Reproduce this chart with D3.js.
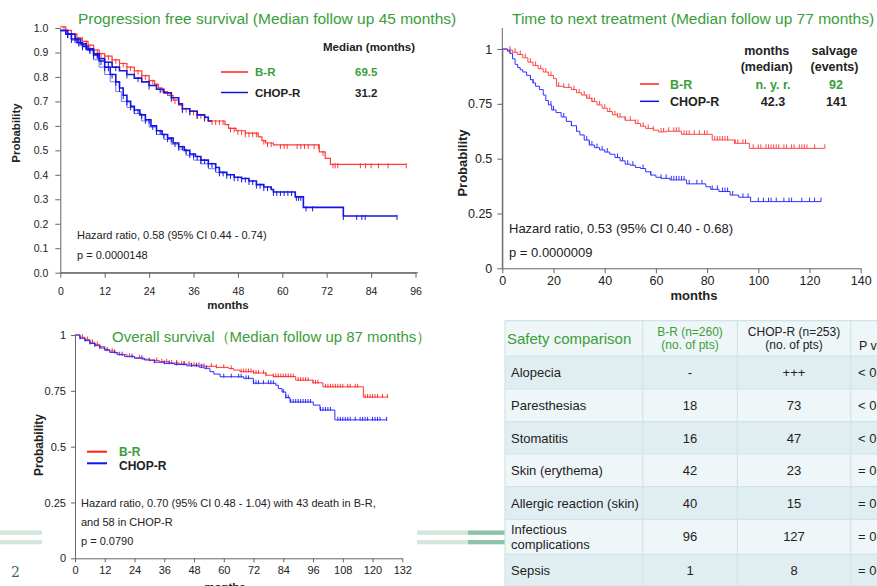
<!DOCTYPE html>
<html>
<head>
<meta charset="utf-8">
<script src="https://cdn.jsdelivr.net/npm/d3@7"></script>
<style>
  body { margin: 0; background: #fff; }
  svg { display: block; font-family: "Liberation Sans", Arial, sans-serif; }
</style>
</head>
<body>
<svg id="chart" width="877" height="586"></svg>
<script>
// ---- data: progression free survival (months, survival) ----
const pfsTicksX = [0, 12, 24, 36, 48, 60, 72, 84, 96];
const pfsTicksY = [0, 0.1, 0.2, 0.3, 0.4, 0.5, 0.6, 0.7, 0.8, 0.9, 1.0];
const pfsBR = [[0,1.005],[1.5,0.99],[3,0.975],[4.5,0.96],[6,0.945],[7.5,0.93],[9,0.91],[10.5,0.895],[12,0.885],[14,0.87],[16,0.855],[18,0.84],[20,0.825],[22,0.805],[24,0.785],[25.5,0.77],[26.5,0.755],[27.5,0.74],[29,0.725],[30.5,0.705],[32,0.685],[33,0.67],[35,0.66],[37,0.645],[39,0.635],[40,0.62],[44.5,0.605],[45.5,0.59],[47.5,0.58],[50,0.57],[53.5,0.555],[54.5,0.54],[55.5,0.53],[57.6,0.522],[70,0.494],[71.6,0.467],[73,0.443]];
const pfsBREnd = 93.5;
const pfsBRCensor = [1,2,3,4,5,6,7,8,9,10,11,12,13,14,15,16,17,18,19,20,21,22,23,24,25,26,31,33,34,35,36,37,38,39,41,42,43,44,46,47,48,49,50,51,52,53,55,56,57,59.5,60.5,61.3,64,65,66,67,68.6,69.8,71,73.7,74.3,75,81.1,82.5,84,86,88.6,93.5];
const pfsCHOP = [[0,0.99],[1.5,0.975],[3,0.955],[4.5,0.94],[6,0.925],[7.5,0.91],[9,0.89],[10.5,0.865],[12,0.84],[13.5,0.81],[15,0.78],[16,0.755],[17,0.725],[18,0.7],[19,0.68],[20,0.665],[21.5,0.645],[23,0.625],[24.5,0.6],[26,0.58],[27.5,0.565],[29,0.55],[30.5,0.53],[32,0.515],[33.5,0.5],[35,0.485],[36.5,0.475],[38,0.46],[40,0.445],[42,0.43],[43,0.41],[45,0.4],[47,0.39],[49,0.385],[51,0.375],[53,0.36],[55,0.35],[57,0.34],[57.6,0.33],[63.5,0.31],[65.7,0.267],[76.5,0.232]];
const pfsCHOPEnd = 91;
const pfsCHOPCensor = [2,3,4,5,6,7,8,9,10,11,12,13,14,15,16,17,18,19,20,21,22,23,24,25,26,27,28,29,30,31,32,33,34,35,36,37,38,39,40,41,42,43,44,45,46,47,48,49,50,51,52,53,54,55,56,57.6,58.5,59.5,60.5,61.5,62.5,63.8,64.4,65,66.4,68.2,76.5,80.1,81.5,82.4,91];
// overlaid curves visible in the source picture
const pfsOverlay = [[0,0.99],[2,0.975],[4,0.955],[5.5,0.935],[7,0.915],[9,0.895],[10.5,0.875],[12,0.86],[14,0.84],[16,0.825],[18,0.81],[20,0.795],[22,0.78],[24,0.765],[26,0.75],[28,0.735],[30,0.715],[32,0.69],[33,0.67],[35,0.66],[37,0.645],[39,0.635],[40,0.62]];
const pfsOverlayEnd = 41;
const pfsOverlayCensor = [2,3,5,6,8,10,13,15,18,21,24,27,30,33,35,37,39];
const pfsShadow = [[3,0.95],[5,0.93],[7,0.91],[9,0.87],[10.5,0.84],[12,0.81],[13.5,0.78],[15,0.74],[16.5,0.7],[18,0.675],[20,0.65],[22,0.62],[24,0.595],[26,0.565],[28,0.545],[30,0.525],[32,0.505],[34,0.48],[36,0.46],[38,0.445],[40,0.425],[42,0.41]];
const pfsShadowEnd = 43;

// ---- data: time to next treatment ----
const ttntTicksX = [0, 20, 40, 60, 80, 100, 120, 140];
const ttntTicksY = [0, 0.25, 0.5, 0.75, 1];
const ttntBR = [[0,1],[2,0.995],[4,0.985],[6,0.975],[8,0.96],[10,0.94],[12,0.925],[14,0.91],[16,0.895],[18,0.88],[20,0.865],[21.2,0.83],[24,0.825],[27,0.815],[29,0.8],[31,0.79],[33,0.775],[35,0.76],[37,0.745],[39,0.73],[41,0.715],[43,0.7],[45,0.69],[48,0.675],[52,0.66],[54,0.648],[56,0.638],[59,0.63],[61,0.622],[64,0.625],[70,0.611],[82,0.585],[90.7,0.57],[96.5,0.547]];
const ttntBREnd = 126;
const ttntBRCensor = [3,5,7,9,11,13,15,17,19,22,24,26,28,30,32,33,34,35,36,38,40,42,44,45,46,48,50,52,53,55,57,59,62,63,65,67,68,69,71,72,73,75,77,79,80,83,84,85,86,87,88,91,92,94,95,98,100,101,103,104,105,106,107,108,110,111,113,114,116,117,118,119,122,126];
const ttntCHOP = [[0,1],[2,0.99],[3,0.98],[4,0.955],[5,0.93],[6,0.915],[7,0.905],[8,0.895],[9.5,0.88],[11,0.86],[12,0.845],[13,0.83],[14.5,0.815],[16,0.79],[17,0.765],[18,0.745],[19.3,0.722],[21,0.71],[23,0.69],[25,0.67],[27,0.65],[29,0.625],[30.3,0.608],[32,0.585],[34,0.562],[36,0.55],[38,0.54],[40,0.53],[42,0.52],[44,0.505],[46,0.49],[48,0.475],[50,0.47],[52,0.46],[54,0.455],[56,0.44],[58,0.425],[60,0.415],[62,0.41],[65.5,0.403],[72,0.385],[79.5,0.372],[81.4,0.36],[84.6,0.35],[89,0.334],[92.3,0.324],[97,0.304]];
const ttntCHOPEnd = 124.5;
const ttntCHOPCensor = [3,11,12,19,20,24,27,29,33,34,35,37,39,41,45,47,49,51,55,58,62,64,66,67,68,69,70,71,73,76,78,82,84,86,87,88,90,94,96,100,102,104,105,107,110,112,113,117,120,122,124.5];

// ---- data: overall survival ----
const osTicksX = [0, 12, 24, 36, 48, 60, 72, 84, 96, 108, 120, 132];
const osTicksY = [0, 0.25, 0.5, 0.75, 1];
const osBR = [[0,1],[2,0.99],[4,0.98],[6,0.968],[8,0.958],[10,0.948],[12,0.935],[14,0.928],[16,0.92],[18,0.912],[21,0.905],[24,0.898],[27,0.892],[30,0.886],[34,0.88],[38,0.875],[42,0.87],[47,0.865],[52,0.86],[57,0.855],[62,0.85],[64,0.843],[66.5,0.836],[72,0.83],[77,0.82],[80,0.814],[89,0.798],[96,0.786],[100,0.768],[116.3,0.722]];
const osBREnd = 126.3;
const osBRCensor = [3,5,7,9,12,15,18,22,26,30,33,35,37,39,41,43,44,46,48,50,52,55,57,60,63,67,68,69,70,71,72,73,74,76,77,80,81,82,83,84,85,86,87,88,90,91,92,93,94,96,97,98,101,102,103,104,105,106,107,108,110,111,113,114,117,118,119,120,121,122,124,126];
const osCHOP = [[0,1],[2,0.985],[4,0.975],[6,0.962],[8,0.952],[10,0.942],[12,0.932],[14,0.922],[17,0.912],[20,0.903],[24,0.896],[28,0.888],[32,0.878],[36,0.873],[40,0.868],[45,0.862],[50,0.856],[52,0.851],[54.4,0.836],[56,0.825],[58.5,0.813],[68,0.806],[71.9,0.784],[81,0.775],[82,0.76],[83.5,0.745],[85,0.72],[86.7,0.7],[96.1,0.686],[98.8,0.664],[104.8,0.62]];
const osCHOPEnd = 125.7;
const osCHOPCensor = [2,4,6,8,10,13,16,19,23,27,32,36,38,41,44,47,49,51,53,60,63,66,67,69,70,72,73,74,76,78,79,80,84,85,86,87,88,89,90,91,92,93,94,95,99,100,101,102,103,106,107,108,109,110,111,113,115,116,117,118,120,121,122,123,125.7];

// ---- data: safety table ----
const safetyHeader = ["Safety comparison", "B-R (n=260)|(no. of pts)", "CHOP-R (n=253)|(no. of pts)", "P value"];
const safetyRows = ["Alopecia", "Paresthesias", "Stomatitis", "Skin (erythema)", "Allergic reaction (skin)", "Infectious|complications", "Sepsis"];
const brValues = ["-", "18", "16", "42", "40", "96", "1"];
const chopValues = ["+++", "73", "47", "23", "15", "127", "8"];
const pValues = ["< 0.0001", "< 0.0001", "< 0.0001", "= 0.0024", "= 0.0162", "= 0.0025", "= 0.0190"];

const GREEN = '#3a9e3a';
const RED = '#ff2020';
const BLUE = '#1414e6';
const svg = d3.select('#chart');
svg.append('rect').attr('width', 877).attr('height', 586).attr('fill', '#fff');

const bis = d3.bisector(d => d[0]).right;
function survAt(steps, t) {
  return steps[Math.max(0, bis(steps, t) - 1)][1];
}

function drawPanel(p) {
  const g = svg.append('g');
  const x = d3.scaleLinear().domain(p.xDomain).range(p.xRange);
  const y = d3.scaleLinear().domain([0, 1]).range(p.yRange);

  const xAxis = g.append('g')
    .attr('transform', `translate(0,${y(0)})`)
    .call(d3.axisBottom(x).tickValues(p.xTicks).tickSize(p.tickSize).tickPadding(p.xPad).tickSizeOuter(0));
  const yAxis = g.append('g')
    .attr('transform', `translate(${x(0)},0)`)
    .call(d3.axisLeft(y).tickValues(p.yTicks).tickFormat(p.yFormat).tickSize(p.tickSize).tickPadding(p.yPad).tickSizeOuter(0));
  [xAxis, yAxis].forEach(a => {
    a.select('.domain').attr('stroke', '#666');
    a.selectAll('.tick line').attr('stroke', '#666');
    a.selectAll('.tick text').attr('fill', '#222').style('font-size', p.tickFont + 'px').style('font-family', p.tickFamily);
  });
  if (p.xLineEnd) {
    g.append('line').attr('x1', x(0)).attr('x2', p.xLineEnd).attr('y1', y(0)).attr('y2', y(0)).attr('stroke', '#666');
  }
  if (p.yLineTop) {
    g.append('line').attr('x1', x(0)).attr('x2', x(0)).attr('y1', y(0)).attr('y2', p.yLineTop).attr('stroke', '#666');
  }

  const line = d3.line().x(d => x(d[0])).y(d => y(d[1])).curve(d3.curveStepAfter);
  p.curves.forEach(c => {
    const pts = c.steps.concat([[c.end, c.steps[c.steps.length - 1][1]]]);
    g.append('path').attr('d', line(pts)).attr('fill', 'none')
      .attr('stroke', c.color).attr('stroke-width', c.width).attr('opacity', c.opacity || 1);
    if (c.censor) {
      g.append('g').selectAll('line').data(c.censor).join('line')
        .attr('x1', t => x(t)).attr('x2', t => x(t))
        .attr('y1', t => y(survAt(c.steps, t)) + p.censorUp)
        .attr('y2', t => y(survAt(c.steps, t)) + p.censorDown)
        .attr('stroke', c.color).attr('stroke-width', 1).attr('opacity', c.opacity || 1);
    }
  });
  return { g, x, y };
}

function txt(s, x, y, opt) {
  const o = opt || {};
  return svg.append('text').attr('x', x).attr('y', y).text(s)
    .attr('fill', o.fill || '#222')
    .attr('text-anchor', o.anchor || 'start')
    .style('font-size', (o.size || 11) + 'px')
    .style('font-weight', o.bold ? 'bold' : 'normal')
    .style('font-family', o.family || null)
    .attr('transform', o.rotate ? `rotate(-90,${x},${y})` : null);
}

// ---------- panel 1: PFS ----------
drawPanel({
  xDomain: [0, 96], xRange: [60.3, 415.5],
  yRange: [272.7, 28.0],
  xTicks: pfsTicksX, yTicks: pfsTicksY, yFormat: d3.format('.1f'),
  tickSize: 5, xPad: 10, yPad: 7, tickFont: 10.5,
  xLineEnd: 418,
  censorUp: -1, censorDown: 4,
  curves: [
    { steps: pfsShadow, end: pfsShadowEnd, color: '#5a6cf0', width: 1, opacity: 0.9 },
    { steps: pfsBR, end: pfsBREnd, color: '#ff3a3a', width: 1.2, censor: pfsBRCensor },
    { steps: pfsOverlay, end: pfsOverlayEnd, color: '#1a1ad0', width: 1.6, censor: pfsOverlayCensor },
    { steps: pfsCHOP, end: pfsCHOPEnd, color: BLUE, width: 1.6, censor: pfsCHOPCensor }
  ]
});
txt('Progression free survival (Median follow up 45 months)', 78, 24, { fill: GREEN, size: 15.5 });
txt('Probability', 20, 133, { size: 11.5, bold: true, anchor: 'middle', rotate: true });
txt('months', 228, 309, { size: 11.5, bold: true, anchor: 'middle' });
txt('Median (months)', 323, 51, { size: 11.5, bold: true });
svg.append('line').attr('x1', 221).attr('x2', 248).attr('y1', 72).attr('y2', 72).attr('stroke', RED).attr('stroke-width', 1.5);
svg.append('line').attr('x1', 221).attr('x2', 248).attr('y1', 92.5).attr('y2', 92.5).attr('stroke', BLUE).attr('stroke-width', 1.5);
txt('B-R', 255, 76, { size: 11.5, bold: true, fill: GREEN });
txt('CHOP-R', 255, 97, { size: 11.5, bold: true });
txt('69.5', 355, 76, { size: 11.5, bold: true, fill: GREEN });
txt('31.2', 355, 97, { size: 11.5, bold: true });
txt('Hazard ratio, 0.58 (95% CI 0.44 - 0.74)', 77, 239, { size: 11 });
txt('p = 0.0000148', 77, 259, { size: 11 });

// ---------- panel 2: time to next treatment ----------
drawPanel({
  xDomain: [0, 140], xRange: [502.3, 860.7],
  yRange: [268.3, 49.0],
  xTicks: ttntTicksX, yTicks: ttntTicksY, yFormat: d => String(d),
  tickSize: 5, xPad: 3, yPad: 5, tickFont: 12.5,
  yLineTop: 28,
  censorUp: -4, censorDown: 0,
  curves: [
    { steps: ttntBR, end: ttntBREnd, color: '#ff4545', width: 1, censor: ttntBRCensor },
    { steps: ttntCHOP, end: ttntCHOPEnd, color: '#3030ff', width: 1, censor: ttntCHOPCensor }
  ]
});
txt('Time to next treatment (Median follow up 77 months)', 512, 24, { fill: GREEN, size: 15.5 });
txt('Probability', 467, 163, { size: 13, bold: true, anchor: 'middle', rotate: true });
txt('months', 694, 300, { size: 13, bold: true, anchor: 'middle' });
txt('months', 766.7, 55, { size: 12.5, bold: true, anchor: 'middle' });
txt('(median)', 766.7, 71, { size: 12.5, bold: true, anchor: 'middle' });
txt('salvage', 834.5, 55, { size: 12.5, bold: true, anchor: 'middle' });
txt('(events)', 834.5, 71, { size: 12.5, bold: true, anchor: 'middle' });
svg.append('line').attr('x1', 640).attr('x2', 659).attr('y1', 84).attr('y2', 84).attr('stroke', RED).attr('stroke-width', 1.5);
svg.append('line').attr('x1', 640).attr('x2', 659).attr('y1', 101.3).attr('y2', 101.3).attr('stroke', BLUE).attr('stroke-width', 1.5);
txt('B-R', 670, 88.5, { size: 12.5, bold: true, fill: GREEN });
txt('CHOP-R', 670, 106, { size: 12.5, bold: true });
txt('n. y. r.', 773, 88.5, { size: 12.5, bold: true, fill: GREEN, anchor: 'middle' });
txt('92', 836, 88.5, { size: 12.5, bold: true, fill: GREEN, anchor: 'middle' });
txt('42.3', 773, 106, { size: 12.5, bold: true, anchor: 'middle' });
txt('141', 836.5, 106, { size: 12.5, bold: true, anchor: 'middle' });
txt('Hazard ratio, 0.53 (95% CI 0.40 - 0.68)', 509, 233, { size: 13 });
txt('p = 0.0000009', 509, 257, { size: 13 });

// ---------- panel 3: overall survival ----------
const NARROW = '"Liberation Sans Narrow", "Liberation Sans", Arial, sans-serif';
drawPanel({
  xDomain: [0, 132], xRange: [75, 402.3],
  yRange: [558.3, 335.0],
  xTicks: osTicksX, yTicks: osTicksY, yFormat: d => String(d),
  tickSize: 4, xPad: 4, yPad: 5, tickFont: 11, tickFamily: NARROW,
  censorUp: -3, censorDown: 1,
  curves: [
    { steps: osBR, end: osBREnd, color: '#ff3535', width: 1, censor: osBRCensor },
    { steps: osCHOP, end: osCHOPEnd, color: '#2a2aff', width: 1, censor: osCHOPCensor }
  ]
});
txt('Overall survival\uFF08Median follow up 87 months\uFF09', 112, 342, { fill: GREEN, size: 15 });
txt('Probability', 43, 445, { size: 12, bold: true, anchor: 'middle', rotate: true });
txt('months', 225, 591, { size: 11.5, bold: true, anchor: 'middle' });
svg.append('line').attr('x1', 87).attr('x2', 107).attr('y1', 451.7).attr('y2', 451.7).attr('stroke', RED).attr('stroke-width', 2);
svg.append('line').attr('x1', 87).attr('x2', 107).attr('y1', 463.3).attr('y2', 463.3).attr('stroke', BLUE).attr('stroke-width', 2);
txt('B-R', 119, 456, { size: 12, bold: true, fill: GREEN });
txt('CHOP-R', 119, 470, { size: 12, bold: true });
txt('Hazard ratio, 0.70 (95% CI 0.48 - 1.04) with 43 death in B-R,', 81, 507, { size: 11, family: NARROW });
txt('and 58 in CHOP-R', 81, 526, { size: 11, family: NARROW });
txt('p = 0.0790', 81, 545, { size: 11, family: NARROW });

// ---------- decorative slide bars and page number ----------
[530.5, 540].forEach(yy => {
  svg.append('rect').attr('x', 0).attr('y', yy).attr('width', 42).attr('height', 4.3).attr('fill', '#d3e6dc');
  svg.append('rect').attr('x', 417).attr('y', yy).attr('width', 51).attr('height', 4.3).attr('fill', '#d3e6dc');
  svg.append('rect').attr('x', 468).attr('y', yy).attr('width', 37).attr('height', 4.3).attr('fill', '#8cc3a6');
});
txt('2', 11, 577, { size: 14, fill: '#2e6e4a', family: '"DejaVu Serif", serif' });

// ---------- safety table ----------
const colX = [505, 642.7, 737.3, 850.7, 930];
const rowH = [35.3, 33, 32.7, 32.3, 32.7, 32.6, 35, 32];
const rowY = [320.7];
rowH.forEach((h, i) => rowY.push(rowY[i] + h));
const tg = svg.append('g');
rowH.forEach((h, i) => {
  const fill = i === 0 ? '#eef6f8' : (i % 2 === 1 ? '#e1eef1' : '#eff6f8');
  tg.append('rect').attr('x', colX[0]).attr('y', rowY[i]).attr('width', colX[4] - colX[0]).attr('height', h).attr('fill', fill);
});
rowY.forEach(yy => tg.append('line').attr('x1', colX[0]).attr('x2', colX[4]).attr('y1', yy).attr('y2', yy).attr('stroke', '#cfe4e9').attr('stroke-width', 1.2));
colX.slice(0, 4).forEach(xx => tg.append('line').attr('x1', xx).attr('x2', xx).attr('y1', rowY[0]).attr('y2', 586).attr('stroke', '#cfe4e9').attr('stroke-width', 1.2));

function cellText(s, x, yMid, opt) {
  const lines = s.split('|');
  const lh = opt.lh || 14.5;
  lines.forEach((l, k) => {
    txt(l, x, yMid + (k - (lines.length - 1) / 2) * lh + opt.size * 0.36, opt);
  });
}
const hMid = rowY[0] + rowH[0] / 2;
cellText(safetyHeader[0], 507, hMid, { size: 15, fill: GREEN });
cellText(safetyHeader[1], (colX[1] + colX[2]) / 2, hMid, { size: 12, fill: GREEN, anchor: 'middle', lh: 13.5 });
cellText(safetyHeader[2], (colX[2] + colX[3]) / 2, hMid, { size: 12, anchor: 'middle', lh: 13.5 });
cellText(safetyHeader[3], 859, hMid + 7, { size: 12.5 });
safetyRows.forEach((r, i) => {
  const mid = rowY[i + 1] + rowH[i + 1] / 2;
  cellText(r, 511, mid, { size: 13, lh: 15 });
  cellText(brValues[i], (colX[1] + colX[2]) / 2, mid, { size: 13, anchor: 'middle' });
  cellText(chopValues[i], (colX[2] + colX[3]) / 2, mid, { size: 13, anchor: 'middle' });
  cellText(pValues[i], 858, mid, { size: 13 });
});
</script>
</body>
</html>
